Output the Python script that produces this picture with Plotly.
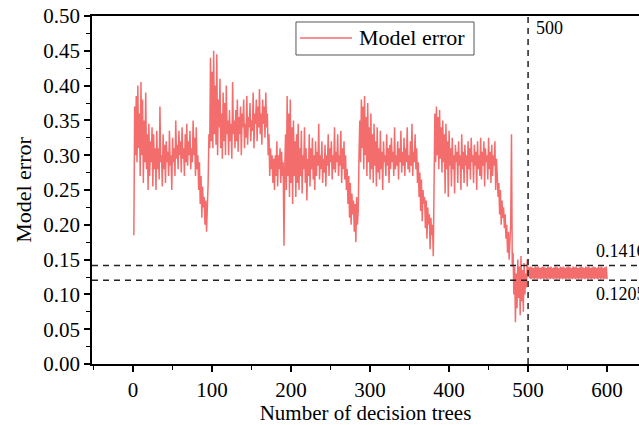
import plotly.graph_objects as go

# Model error (x1000), per block of decision trees
block1 = [185, 370, 300, 385, 290, 400, 310, 360, 270, 405,
          300, 380, 260, 350, 290, 390, 280, 330, 250, 345,
          270, 320, 290, 340, 255, 330, 280, 310, 250, 335,
          280, 310, 265, 370, 290, 300, 255, 330, 280, 315,
          260, 320, 290, 305, 270, 335, 285, 300, 250, 325,
          290, 310, 270, 350, 295, 315, 280, 335, 300, 320,
          275, 340, 295, 310, 270, 330, 290, 345, 285, 320,
          300, 335, 280, 310, 290, 350, 300, 325, 270, 340,
          280, 300, 250, 290, 230, 270, 210, 255, 225, 240,
          200, 235, 190, 220]
block2 = [260, 330, 310, 440, 320, 420,
          310, 450, 330, 400, 315, 445, 300, 380, 340, 410,
          310, 360, 295, 390, 320, 375, 300, 400, 330, 350,
          300, 365, 320, 345, 295, 405, 330, 350, 310, 365,
          320, 380, 305, 355, 330, 370, 300, 360, 340, 380,
          310, 345, 325, 385, 315, 355, 340, 375, 320, 350,
          335, 390, 310, 360, 345, 380, 320, 370, 340, 395,
          330, 360, 315, 380, 345, 370, 325, 390, 340, 360,
          300, 330, 270, 310, 280, 300, 260, 295, 250, 300,
          270, 320, 255, 300, 280, 310, 260, 305, 270, 290]
block3 = [170, 280, 330, 250, 385, 270, 360, 240, 380, 260,
          340, 230, 350, 270, 320, 240, 330, 260, 345, 250,
          310, 270, 335, 245, 300, 280, 340, 260, 310, 235,
          295, 270, 330, 255, 310, 280, 325, 265, 300, 250,
          320, 270, 305, 285, 345, 265, 300, 280, 320, 260,
          295, 275, 315, 255, 300, 285, 330, 270, 310, 290,
          320, 265, 300, 280, 340, 275, 305, 290, 330, 270,
          300, 285, 335, 260, 310, 280, 320, 265, 300, 250,
          280, 230, 270, 210, 260, 200, 245, 215, 235, 190,
          230, 175, 240, 200, 220]
block4 = [300, 350, 290, 380, 310,
          370, 280, 385, 300, 355, 270, 375, 290, 340, 265,
          360, 280, 330, 260, 345, 285, 320, 255, 340, 275,
          310, 265, 335, 280, 305, 250, 320, 290, 300, 270,
          330, 285, 310, 260, 315, 280, 325, 290, 305, 270,
          340, 280, 300, 285, 320, 265, 310, 290, 335, 275,
          305, 285, 325, 270, 310, 290, 340, 280, 300, 275,
          320, 285, 345, 270, 305, 290, 330, 280, 310, 260,
          290, 240, 275, 220, 265, 205, 250, 230, 240, 195,
          235, 180, 225, 200, 215, 165, 210, 185, 200, 155]
block5 = [310, 360, 290, 370, 300, 355, 280, 365, 295, 340,
          275, 350, 290, 330, 245, 345, 280, 320, 240, 335,
          285, 310, 255, 325, 280, 300, 245, 315, 290, 305,
          260, 320, 285, 300, 250, 330, 280, 305, 260, 315,
          285, 300, 255, 320, 280, 310, 265, 325, 290, 300,
          260, 315, 285, 305, 250, 320, 280, 300, 270, 325,
          265, 305, 285, 320, 255, 310, 290, 300, 265, 325,
          280, 305, 260, 315, 270, 300, 285, 320, 250, 295]
decline = [270, 240, 260, 215, 250, 200, 235, 210, 225, 195,
           215, 180, 200, 160, 190, 150, 175, 200, 330, 140,
           160, 100, 140, 60, 130, 80, 150, 95, 140, 70,
           155, 90, 135, 75, 145, 100, 130, 110, 150, 125]
plateau = [139, 123, 140, 122, 139, 123, 138, 122, 140, 123,
           139, 122, 140, 123, 138, 122, 139, 123, 140, 122,
           139, 123, 138, 122, 140, 123, 139, 122, 140, 123,
           138, 122, 139, 123, 140, 122, 139, 123, 138, 122,
           140, 123, 139, 122, 140, 123, 138, 122, 139, 123,
           140, 122, 139, 123, 138, 122, 140, 123, 139, 122,
           140, 123, 138, 122, 139, 123, 140, 122, 139, 123,
           138, 122, 140, 123, 139, 122, 140, 123, 138, 122,
           139, 123, 140, 122, 139, 123, 138, 122, 140, 123,
           139, 122, 140, 123, 138, 122, 139, 123, 140, 122]

series_name = "Model error"
best_trees = 500
upper_ref = 0.1416
lower_ref = 0.1205
x_ticks = [0, 100, 200, 300, 400, 500, 600]
y_ticks = [0.00, 0.05, 0.10, 0.15, 0.20, 0.25, 0.30, 0.35, 0.40, 0.45, 0.50]

values = block1 + block2 + block3 + block4 + block5 + decline + plateau
errors = [v / 1000 for v in values]
trees = list(range(1, len(errors) + 1))

FONT = "Times New Roman, Liberation Serif, Tinos, serif"
LINE_COLOR = "#F46D6D"
fig = go.Figure()
fig.add_trace(go.Scatter(x=trees, y=errors, mode="lines", name=series_name,
                         line=dict(color=LINE_COLOR, width=1.5), showlegend=False))

dash_style = dict(color="#222222", width=1.5, dash="6px,5px")
fig.add_shape(type="line", xref="x", yref="paper", x0=best_trees, x1=best_trees,
              y0=0, y1=1, line=dash_style)
for yv in (upper_ref, lower_ref):
    fig.add_shape(type="line", xref="paper", yref="y", x0=0, x1=1,
                  y0=yv, y1=yv, line=dash_style)

# legend box drawn in paper coordinates (Origin-style)
fig.add_shape(type="rect", xref="paper", yref="paper", x0=0.3729, x1=0.6984,
              y0=0.8879, y1=0.9828, line=dict(color="#555555", width=1), fillcolor="white")
fig.add_shape(type="line", xref="paper", yref="paper", x0=0.3803, x1=0.4753,
              y0=0.9368, y1=0.9368, line=dict(color=LINE_COLOR, width=1.3))
fig.add_annotation(xref="paper", yref="paper", x=0.4845, y=0.9368, text=series_name,
                   showarrow=False, xanchor="left", yanchor="middle",
                   font=dict(family=FONT, size=22, color="black"))

fig.add_annotation(x=best_trees + 7, y=0.483, text=str(best_trees), showarrow=False,
                   xanchor="left", yanchor="middle", font=dict(family=FONT, size=18, color="black"))
fig.add_annotation(x=584, y=upper_ref, text=f"{upper_ref:.4f}", showarrow=False,
                   xanchor="left", yanchor="bottom", yshift=2,
                   font=dict(family=FONT, size=18, color="black"))
fig.add_annotation(x=584, y=lower_ref, text=f"{lower_ref:.4f}", showarrow=False,
                   xanchor="left", yanchor="top", yshift=-2,
                   font=dict(family=FONT, size=18, color="black"))

fig.update_layout(
    width=639, height=425,
    margin=dict(l=92, r=0, t=16, b=61),
    paper_bgcolor="white", plot_bgcolor="white",
    font=dict(family=FONT, size=21, color="black"),
    showlegend=False,
)
fig.update_xaxes(range=[-52, 640.4], tickvals=x_ticks, ticktext=[str(t) for t in x_ticks],
                 automargin=False, tickfont=dict(family=FONT, size=21),
                 showgrid=False, zeroline=False, showline=True, linecolor="black", linewidth=1.5,
                 mirror=True, ticks="outside", ticklen=6, tickwidth=1.5, tickcolor="black",
                 minor=dict(dtick=50, tick0=0, ticks="outside", ticklen=4, tickwidth=1.2, tickcolor="black"),
                 title=dict(text="Number of decision trees", font=dict(family=FONT, size=21), standoff=0))
fig.update_yaxes(range=[0, 0.5], tickvals=y_ticks, ticktext=[f"{t:.2f}" for t in y_ticks],
                 automargin=False, tickfont=dict(family=FONT, size=21),
                 showgrid=False, zeroline=False, showline=True, linecolor="black", linewidth=1.5,
                 ticks="outside", ticklen=6, tickwidth=1.5, tickcolor="black",
                 minor=dict(dtick=0.025, tick0=0, ticks="outside", ticklen=4, tickwidth=1.2, tickcolor="black"),
                 title=dict(text="Model error", font=dict(family=FONT, size=22), standoff=6))

fig.write_html("out.html", config={"displayModeBar": False},
               post_script="document.body.style.margin='0';")
